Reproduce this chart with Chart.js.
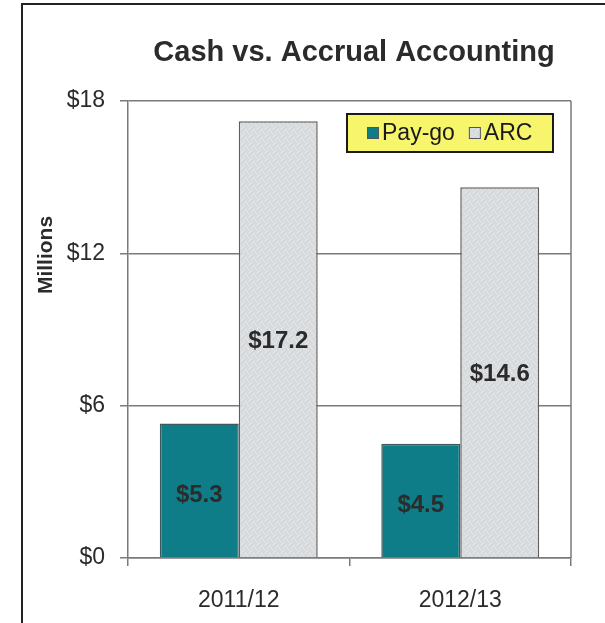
<!DOCTYPE html>
<html>
<head>
<meta charset="utf-8">
<title>Cash vs. Accrual Accounting</title>
<script src="https://cdn.jsdelivr.net/npm/chart.js@4.4.1/dist/chart.umd.min.js"></script>
<style>
  html, body { margin: 0; padding: 0; background: #fff; }
  #wrap { width: 605px; height: 623px; position: relative; }
</style>
</head>
<body>
<div id="wrap"><canvas id="cashChart" width="605" height="623"></canvas></div>
<script>
// Chart data
const years = ['2011/12', '2012/13'];
const payGo = [5.3, 4.5];
const arc = [17.2, 14.6];
const yTicks = [0, 6, 12, 18];

const chartTitle = 'Cash vs. Accrual Accounting';
const axisTitle = 'Millions';
const FONT = '"Liberation Sans", Arial, Helvetica, sans-serif';
const TEXT = '#2b2b2b';
const LINE = '#7a7a7a';

// Light grey fill with a fixed speckle, like a printed halftone
function speckleFill() {
    const c = document.createElement('canvas');
    c.width = 8; c.height = 8;
    const g = c.getContext('2d');
    g.fillStyle = '#d9dcde';
    g.fillRect(0, 0, 8, 8);
    const light = [[1, 0], [5, 1], [3, 3], [7, 4], [0, 5], [4, 6], [2, 7], [6, 2]];
    const dark = [[3, 1], [6, 5], [1, 3], [5, 7]];
    g.fillStyle = '#e9ebec';
    light.forEach(p => g.fillRect(p[0], p[1], 1, 1));
    g.fillStyle = '#ccd0d2';
    dark.forEach(p => g.fillRect(p[0], p[1], 1, 1));
    return g.createPattern(c, 'repeat');
}

// Outer frame, heading and vertical axis caption
const framePlugin = {
    id: 'frame',
    beforeDraw(chart) {
        const ctx = chart.ctx;
        ctx.save();
        ctx.fillStyle = '#fff';
        ctx.fillRect(0, 0, chart.width, chart.height);
        ctx.strokeStyle = '#222';
        ctx.lineWidth = 2;
        ctx.beginPath();
        ctx.moveTo(22, chart.height);
        ctx.lineTo(22, 4);
        ctx.lineTo(chart.width, 4);
        ctx.stroke();
        ctx.restore();
    },
    afterDraw(chart) {
        const ctx = chart.ctx;
        const area = chart.chartArea;
        ctx.save();
        // right edge of the plot box
        ctx.strokeStyle = LINE;
        ctx.lineWidth = 1.5;
        ctx.beginPath();
        ctx.moveTo(area.right, area.top);
        ctx.lineTo(area.right, area.bottom);
        ctx.stroke();

        ctx.fillStyle = TEXT;
        ctx.textAlign = 'center';
        ctx.textBaseline = 'middle';
        ctx.font = 'bold 29px ' + FONT;
        ctx.fillText(chartTitle, 354, 53);

        ctx.translate(46, 255);
        ctx.rotate(-Math.PI / 2);
        ctx.font = 'bold 21px ' + FONT;
        ctx.fillText(axisTitle, 0, 0);
        ctx.restore();
    }
};

// Value labels in the middle of each bar
const valueLabels = {
    id: 'valueLabels',
    afterDatasetsDraw(chart) {
        const ctx = chart.ctx;
        ctx.save();
        ctx.fillStyle = TEXT;
        ctx.font = 'bold 24px ' + FONT;
        ctx.textAlign = 'center';
        ctx.textBaseline = 'middle';
        chart.data.datasets.forEach((ds, i) => {
            chart.getDatasetMeta(i).data.forEach((bar, j) => {
                const y = (bar.y + bar.base) / 2;
                const shift = i === 0 ? 5 : 2;
                ctx.fillText('$' + ds.data[j].toFixed(1), bar.x, y + shift);
            });
        });
        ctx.restore();
    }
};

// Yellow legend box in the top right of the plot
const boxLegend = {
    id: 'boxLegend',
    afterDraw(chart) {
        const ctx = chart.ctx;
        const area = chart.chartArea;
        const w = 206, h = 38;
        const x = area.right - 18 - w;
        const y = area.top + 13;
        ctx.save();
        ctx.fillStyle = '#f6f56c';
        ctx.fillRect(x, y, w, h);
        ctx.strokeStyle = '#1a1a1a';
        ctx.lineWidth = 2;
        ctx.strokeRect(x, y, w, h);

        ctx.font = '23px ' + FONT;
        ctx.textBaseline = 'middle';
        let cx = x + 20;
        const cy = y + h / 2;
        chart.data.datasets.forEach(ds => {
            ctx.fillStyle = ds.backgroundColor;
            ctx.fillRect(cx, cy - 6, 12, 12);
            ctx.strokeStyle = '#555';
            ctx.lineWidth = 1;
            ctx.strokeRect(cx + 0.5, cy - 5.5, 11, 11);
            ctx.fillStyle = '#1a1a1a';
            ctx.fillText(ds.label, cx + 15, cy + 1);
            cx += 15 + ctx.measureText(ds.label).width + 14;
        });
        ctx.restore();
    }
};

new Chart(document.getElementById('cashChart'), {
    type: 'bar',
    data: {
        labels: years,
        datasets: [
            {
                label: 'Pay-go',
                data: payGo,
                backgroundColor: '#0f7d87',
                borderColor: '#3f5a5d',
                borderWidth: 1.5,
                categoryPercentage: 0.713,
                barPercentage: 1.0
            },
            {
                label: 'ARC',
                data: arc,
                backgroundColor: speckleFill(),
                borderColor: '#5e5e5e',
                borderWidth: 1.5,
                categoryPercentage: 0.713,
                barPercentage: 1.0
            }
        ]
    },
    options: {
        responsive: false,
        animation: false,
        layout: { padding: { top: 101, right: 34, left: 0, bottom: 0 } },
        plugins: {
            legend: { display: false },
            title: { display: false },
            tooltip: { enabled: false }
        },
        scales: {
            x: {
                grid: {
                    offset: true,
                    drawOnChartArea: false,
                    color: LINE,
                    lineWidth: 1.5,
                    tickLength: 8
                },
                border: { color: LINE, width: 1.5 },
                ticks: {
                    color: TEXT,
                    font: { family: FONT, size: 23 },
                    padding: 21
                },
                afterFit(scale) { scale.height = 65; }
            },
            y: {
                min: 0,
                max: 18,
                afterBuildTicks(scale) {
                    scale.ticks = yTicks.map(v => ({ value: v }));
                },
                grid: {
                    color: LINE,
                    lineWidth: 1.5,
                    tickLength: 8
                },
                border: { color: LINE, width: 1.5 },
                ticks: {
                    color: TEXT,
                    font: { family: FONT, size: 23 },
                    padding: 15,
                    callback: v => '$' + v
                },
                afterFit(scale) { scale.width = 128; }
            }
        }
    },
    plugins: [framePlugin, valueLabels, boxLegend]
});
</script>
</body>
</html>
